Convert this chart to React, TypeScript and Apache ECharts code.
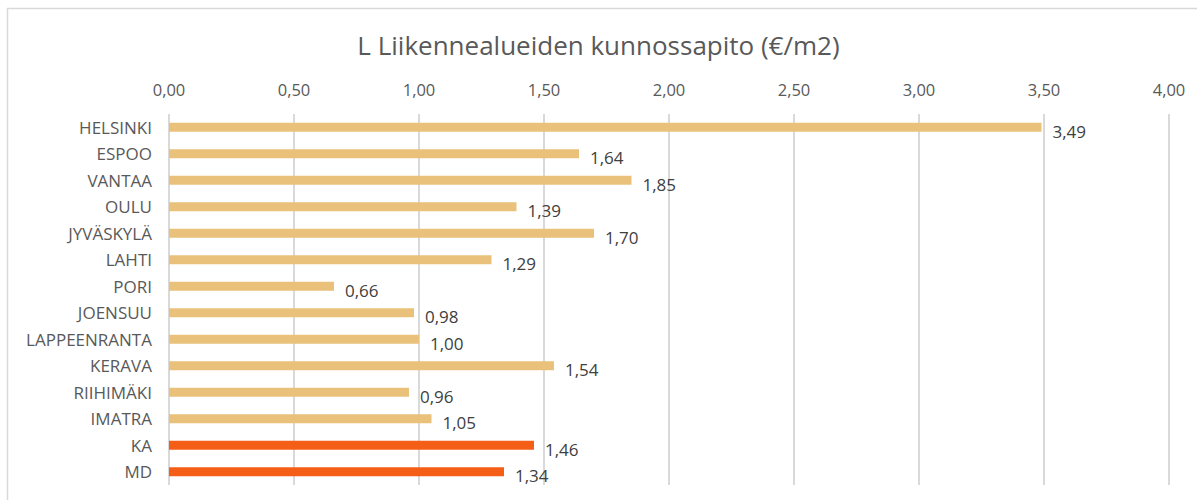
import React, { useEffect, useRef } from "react";
import * as echarts from "echarts";

const categories = [
  "HELSINKI", "ESPOO", "VANTAA", "OULU", "JYVÄSKYLÄ", "LAHTI", "PORI",
  "JOENSUU", "LAPPEENRANTA", "KERAVA", "RIIHIMÄKI", "IMATRA", "KA", "MD",
];
const values = [3.49, 1.64, 1.85, 1.39, 1.70, 1.29, 0.66, 0.98, 1.00, 1.54, 0.96, 1.05, 1.46, 1.34];
const highlighted = ["KA", "MD"];
const titleText = "L Liikennealueiden kunnossapito (€/m2)";

const FONT = "'Open Sans', 'Noto Sans', sans-serif";
const fmt = (v: number) => v.toFixed(2).replace(".", ",");

export default function App() {
  const ref = useRef<HTMLDivElement>(null);
  useEffect(() => {
    if (!ref.current) return;
    const chart = echarts.init(ref.current, undefined, { renderer: "svg" });
    chart.setOption({
      animation: false,
      backgroundColor: "#ffffff",
      title: {
        text: titleText,
        left: "center",
        top: 27,
        textStyle: { fontFamily: FONT, fontSize: 26, fontWeight: "normal", color: "#595959" },
      },
      graphic: [
        {
          type: "rect",
          shape: { x: 7.5, y: 8.5, width: 1200, height: 500 },
          style: { fill: "none", stroke: "#d9d9d9", lineWidth: 1.5 },
          silent: true,
        },
      ],
      grid: { left: 169, right: 28, top: 114, bottom: 15 },
      xAxis: {
        type: "value",
        position: "top",
        min: 0,
        max: 4,
        interval: 0.5,
        axisLine: { show: false },
        axisTick: { show: false },
        axisLabel: {
          formatter: (v: number) => fmt(v),
          color: "#595959",
          fontFamily: FONT,
          fontSize: 16.5,
          margin: 16,
        },
        splitLine: { show: true, lineStyle: { color: "#d9d9d9", width: 2 } },
      },
      yAxis: {
        type: "category",
        data: categories,
        inverse: true,
        axisLine: { show: false },
        axisTick: { show: false },
        axisLabel: { color: "#595959", fontFamily: FONT, fontSize: 17, margin: 17 },
      },
      series: [
        {
          type: "bar",
          barWidth: 9,
          data: values.map((v, i) => ({
            value: v,
            itemStyle: { color: highlighted.includes(categories[i]) ? "#F45E17" : "#E9C17A" },
          })),
          label: {
            show: true,
            position: "right",
            distance: 11,
            offset: [0, 4],
            formatter: (p: any) => fmt(p.value),
            color: "#404040",
            fontFamily: FONT,
            fontSize: 17,
          },
        },
      ],
    });
    return () => chart.dispose();
  }, []);
  return (
    <div
      ref={ref}
      style={{ position: "fixed", left: 0, top: 0, width: 1197, height: 500, background: "#fff" }}
    />
  );
}
